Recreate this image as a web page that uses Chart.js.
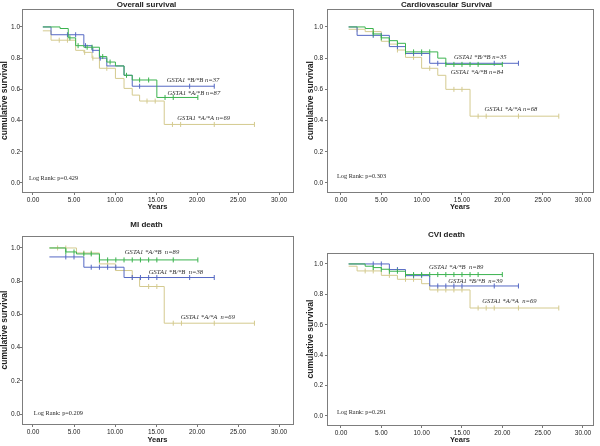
<!DOCTYPE html>
<html>
<head>
<meta charset="utf-8">
<title>GSTA1 survival</title>
<script src="https://cdn.jsdelivr.net/npm/chart.js@4.4.1/dist/chart.umd.min.js"></script>
<style>
  body { margin: 0; background: #fff; }
  .panel { position: absolute; width: 300px; }
</style>
</head>
<body>
<div class="panel" style="left:0;top:0;height:220px"><canvas id="overall"></canvas></div>
<div class="panel" style="left:300px;top:0;height:220px"><canvas id="cardio"></canvas></div>
<div class="panel" style="left:0;top:220px;height:226px"><canvas id="mi"></canvas></div>
<div class="panel" style="left:300px;top:220px;height:226px"><canvas id="cvi"></canvas></div>
<script>
// axis ticks
const xTicks = [0, 5, 10, 15, 20, 25, 30];
const yTicks = [0, 0.2, 0.4, 0.6, 0.8, 1.0];

// Overall survival: step times, survival after step, censored times
const osAB_t = [1.2, 3.3, 4.3, 5.2, 6.2, 8.1, 9.0, 10.05, 11.1, 12.1, 15.1, 20.1];
const osAB_s = [1.0, 0.99, 0.93, 0.88, 0.87, 0.81, 0.775, 0.75, 0.69, 0.66, 0.548, 0.548];
const osAB_c = [4.5, 5.5, 6.6, 7.2, 8.5, 9.4, 11.4, 13.0, 14.1, 16.1, 17.1, 20.1];
const osBB_t = [1.2, 2.2, 6.2, 7.2, 8.1, 9.0, 11.1, 12.1, 22.1];
const osBB_s = [1.0, 0.95, 0.88, 0.85, 0.80, 0.75, 0.69, 0.62, 0.62];
const osBB_c = [4.2, 5.2, 6.4, 7.3, 8.2, 13.0, 19.1, 22.1];
const osAA_t = [1.2, 2.2, 5.2, 6.2, 7.2, 8.1, 10.05, 11.1, 12.1, 13.0, 16.0, 27.0];
const osAA_s = [0.975, 0.915, 0.85, 0.837, 0.80, 0.735, 0.67, 0.606, 0.563, 0.525, 0.375, 0.375];
const osAA_c = [3.2, 4.2, 6.3, 7.3, 9.0, 13.9, 14.9, 17.0, 18.0, 22.1, 27.0];
const osLabels = ['GSTA1 *B/*B n=37', 'GSTA1 *A/*B n=87', 'GSTA1 *A/*A n=69', 'Log Rank: p=0.429'];

// Cardiovascular survival
const cvAB_t = [0.95, 3.0, 4.0, 5.0, 6.0, 7.0, 8.0, 12.0, 13.0, 20.0];
const cvAB_s = [1.0, 0.99, 0.955, 0.93, 0.912, 0.895, 0.84, 0.80, 0.76, 0.76];
const cvAB_c = [4, 5, 6, 7, 8, 9, 10, 11, 13, 14, 15, 16, 17, 20];
const cvBB_t = [0.95, 2.0, 6.0, 8.0, 11.0, 22.0];
const cvBB_s = [1.0, 0.946, 0.874, 0.83, 0.767, 0.767];
const cvBB_c = [4, 5, 7, 9, 10, 12, 19, 22];
const cvAA_t = [0.95, 3.0, 5.0, 6.0, 7.0, 8.0, 10.0, 12.0, 13.0, 16.0, 27.0];
const cvAA_s = [0.985, 0.97, 0.908, 0.89, 0.852, 0.805, 0.735, 0.69, 0.60, 0.428, 0.428];
const cvAA_c = [2, 4, 6, 7, 9, 11, 14, 15, 17, 18, 22, 27];
const cvLabels = ['GSTA1 *B/*B n=35', 'GSTA1 *A/*B n=84', 'GSTA1 *A/*A n=68', 'Log Rank: p=0.303'];

// MI death
const miAB_t = [2.0, 4.0, 5.3, 8.1, 20.1];
const miAB_s = [1.0, 0.976, 0.964, 0.928, 0.928];
const miAB_c = [4, 5, 6.2, 7.1, 8.1, 9.1, 10.1, 11.1, 12.1, 13.1, 14.1, 15.1, 17.1, 20.1];
const miBB_t = [2.0, 6.2, 11.1, 22.1];
const miBB_s = [0.946, 0.884, 0.822, 0.822];
const miBB_c = [4, 5, 7.1, 8.1, 9.1, 10.1, 12.1, 13.1, 14.1, 15.1, 19.1, 22.1];
const miAA_t = [2.0, 5.3, 8.1, 10.05, 12.1, 13.0, 16.0, 27.0];
const miAA_s = [1.0, 0.97, 0.904, 0.864, 0.822, 0.768, 0.547, 0.547];
const miAA_c = [3, 4, 6.2, 7.1, 9.1, 12.1, 14.1, 15.1, 17.1, 18.1, 22.1, 27];
const miLabels = ['GSTA1 *A/*B  n=89', 'GSTA1 *B/*B  n=38', 'GSTA1 *A/*A  n=69', 'Log Rank: p=0.209'];

// CVI death
const cviAB_t = [0.95, 3.0, 4.0, 5.0, 6.0, 8.0, 20.0];
const cviAB_s = [1.0, 0.985, 0.976, 0.965, 0.952, 0.93, 0.93];
const cviAB_c = [4, 5, 6, 7, 8, 9, 10, 11, 12, 13, 14, 15, 16, 17, 20];
const cviBB_t = [0.95, 6.0, 8.0, 11.0, 22.0];
const cviBB_s = [1.0, 0.963, 0.923, 0.855, 0.855];
const cviBB_c = [4, 5, 7, 9, 10, 12, 13, 14, 15, 19, 22];
const cviAA_t = [0.95, 2.0, 5.0, 7.0, 10.0, 11.0, 16.0, 27.0];
const cviAA_s = [0.985, 0.954, 0.925, 0.899, 0.87, 0.829, 0.71, 0.71];
const cviAA_c = [3, 4, 6, 8, 9, 12, 13, 14, 15, 17, 18, 19, 22, 27];
const cviLabels = ['GSTA1 *A/*B  n=89', 'GSTA1 *B/*B  n=39', 'GSTA1 *A/*A  n=69', 'Log Rank: p=0.291'];

const GREEN = '#3bb34f', BLUE = '#5568c4', TAN = '#d4ca8f';
Chart.defaults.font.family = "'Liberation Sans', Arial, sans-serif";

// KM value at time t (step function lookup)
function stepValue(times, surv, t) {
    let v = surv[0];
    for (let i = 0; i < times.length; i++) if (times[i] <= t) v = surv[i];
    return v;
}

function curve(times, surv, cens, color) {
    return [
        // 'before' in Chart.js = horizontal first, then drop
        { data: times.map((t, i) => ({ x: t, y: surv[i] })), borderColor: color, borderWidth: 1,
          stepped: 'before', pointRadius: 0, fill: false },
        { data: cens.map(t => ({ x: t, y: stepValue(times, surv, t) })), showLine: false,
          pointStyle: 'line', rotation: 90, pointRadius: 2.5, borderColor: color, borderWidth: 1 }
    ];
}

// plot frame + curve labels + log rank text
const framePlugin = {
    id: 'frame',
    afterDraw(chart, args, opts) {
        const { ctx, chartArea: a, scales: { x, y } } = chart;
        ctx.save();
        ctx.strokeStyle = '#7d7d7d'; ctx.lineWidth = 1;
        ctx.strokeRect(Math.round(a.left) + 0.5, Math.round(a.top) + 0.5,
                       Math.round(a.right - a.left), Math.round(a.bottom - a.top));
        ctx.fillStyle = '#2a2a2a';
        ctx.textBaseline = 'middle'; ctx.textAlign = 'left';
        ctx.font = "italic 6.6px 'Liberation Serif'";
        opts.notes.forEach(n => ctx.fillText(n.text, x.getPixelForValue(n.t), y.getPixelForValue(n.s)));
        ctx.font = "6.3px 'Liberation Serif'";
        ctx.fillText(opts.logRank.text, x.getPixelForValue(opts.logRank.t), y.getPixelForValue(opts.logRank.s));
        ctx.restore();
    }
};

function makePanel(id, p) {
    const ctx = document.getElementById(id);
    if (!ctx) { console.error(`Canvas #${id} not found`); return; }
    new Chart(ctx, {
        type: 'line',
        data: { datasets: p.datasets },
        options: {
            responsive: true, maintainAspectRatio: false, animation: false,
            layout: { padding: { left: 0, right: 7, top: 0, bottom: 0 } },
            scales: {
                x: {
                    type: 'linear', min: p.xMin, max: p.xMax,
                    afterBuildTicks: s => { s.ticks = xTicks.map(v => ({ value: v })); },
                    afterFit: s => { s.height = p.xHeight; },
                    ticks: { font: { size: 6.5 }, color: '#222', padding: 1, maxRotation: 0, autoSkip: false,
                             callback: v => Number(v).toFixed(2) },
                    grid: { drawOnChartArea: false, drawTicks: true, tickLength: 3, color: '#777' },
                    border: { display: false },
                    title: { display: true, text: 'Years', color: '#222',
                             font: { size: 7.5, weight: 'bold' }, padding: { top: 0, bottom: p.xTitlePad } }
                },
                y: {
                    type: 'linear', min: p.yMin, max: p.yMax,
                    afterBuildTicks: s => { s.ticks = yTicks.map(v => ({ value: v })); },
                    afterFit: s => { s.width = p.yWidth; },
                    ticks: { font: { size: 6.5 }, color: '#222', padding: p.yTickPad,
                             callback: v => Number(v).toFixed(1) },
                    grid: { drawOnChartArea: false, drawTicks: true, tickLength: 2, color: '#777' },
                    border: { display: false },
                    title: { display: true, text: 'cumulative survival', color: '#222',
                             font: { size: 8.5, weight: 'bold' }, padding: { top: p.yTitlePad, bottom: 0 } }
                }
            },
            plugins: {
                legend: { display: false },
                tooltip: { enabled: false },
                title: { display: true, text: p.title, color: '#222',
                         font: { size: 8, weight: 'bold', lineHeight: 1 },
                         padding: { top: p.titleTop, bottom: p.titleBottom } },
                frame: { notes: p.notes, logRank: p.logRank }
            }
        },
        plugins: [framePlugin]
    });
}

makePanel('overall', {
    title: 'Overall survival',
    datasets: [...curve(osAB_t, osAB_s, osAB_c, GREEN), ...curve(osBB_t, osBB_s, osBB_c, BLUE), ...curve(osAA_t, osAA_s, osAA_c, TAN)],
    xMin: -1.34, xMax: 31.7, yMin: -0.058, yMax: 1.115,
    xHeight: 28, xTitlePad: 8.5, yWidth: 22, yTitlePad: 0, yTickPad: 0, titleTop: 1, titleBottom: 0,
    notes: [{ text: osLabels[0], t: 16.3, s: 0.66 }, { text: osLabels[1], t: 16.4, s: 0.577 }, { text: osLabels[2], t: 17.6, s: 0.417 }],
    logRank: { text: osLabels[3], t: -0.5, s: 0.032 }
});

makePanel('cardio', {
    title: 'Cardiovascular Survival',
    datasets: [...curve(cvAB_t, cvAB_s, cvAB_c, GREEN), ...curve(cvBB_t, cvBB_s, cvBB_c, BLUE), ...curve(cvAA_t, cvAA_s, cvAA_c, TAN)],
    xMin: -1.73, xMax: 31.24, yMin: -0.058, yMax: 1.115,
    xHeight: 28, xTitlePad: 8.5, yWidth: 27, yTitlePad: 6, yTickPad: 2, titleTop: 1, titleBottom: 0,
    notes: [{ text: cvLabels[0], t: 14.0, s: 0.808 }, { text: cvLabels[1], t: 13.6, s: 0.712 }, { text: cvLabels[2], t: 17.8, s: 0.474 }],
    logRank: { text: cvLabels[3], t: -0.5, s: 0.04 }
});

makePanel('mi', {
    title: 'MI death',
    datasets: [...curve(miAB_t, miAB_s, miAB_c, GREEN), ...curve(miBB_t, miBB_s, miBB_c, BLUE), ...curve(miAA_t, miAA_s, miAA_c, TAN)],
    xMin: -1.34, xMax: 31.7, yMin: -0.06, yMax: 1.072,
    xHeight: 22, xTitlePad: 1.5, yWidth: 22, yTitlePad: 0, yTickPad: 0, titleTop: 1, titleBottom: 7,
    notes: [{ text: miLabels[0], t: 11.2, s: 0.976 }, { text: miLabels[1], t: 14.1, s: 0.855 }, { text: miLabels[2], t: 18.0, s: 0.584 }],
    logRank: { text: miLabels[3], t: 0.1, s: 0.006 }
});

makePanel('cvi', {
    title: 'CVI death',
    datasets: [...curve(cviAB_t, cviAB_s, cviAB_c, GREEN), ...curve(cviBB_t, cviBB_s, cviBB_c, BLUE), ...curve(cviAA_t, cviAA_s, cviAA_c, TAN)],
    xMin: -1.73, xMax: 31.24, yMin: -0.06, yMax: 1.072,
    xHeight: 21, xTitlePad: 1.5, yWidth: 27, yTitlePad: 6, yTickPad: 2, titleTop: 10.7, titleBottom: 14.3,
    notes: [{ text: cviLabels[0], t: 10.9, s: 0.98 }, { text: cviLabels[1], t: 13.3, s: 0.888 }, { text: cviLabels[2], t: 17.5, s: 0.757 }],
    logRank: { text: cviLabels[3], t: -0.5, s: 0.026 }
});
</script>
</body>
</html>
